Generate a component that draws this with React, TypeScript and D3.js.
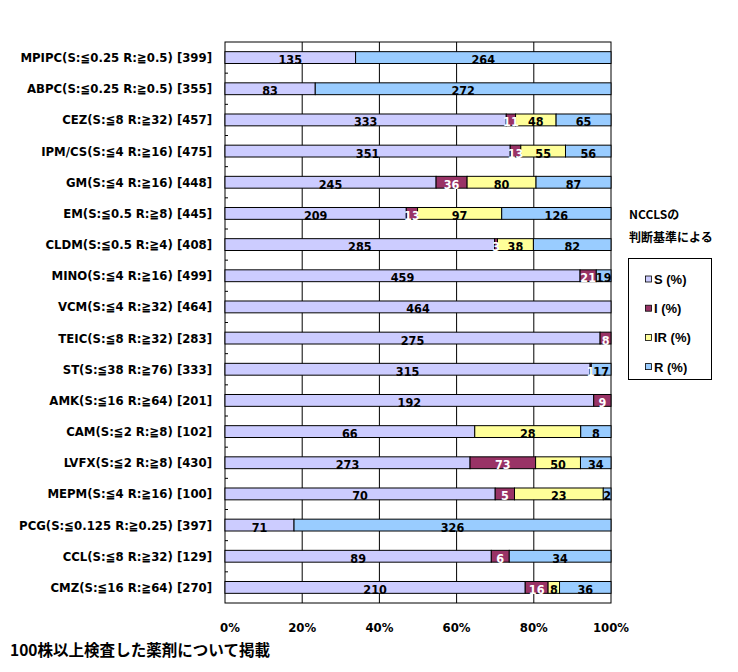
import * as d3 from "d3";

const categories = [
  "MPIPC(S:≦0.25 R:≧0.5) [399]",
  "ABPC(S:≦0.25 R:≧0.5) [355]",
  "CEZ(S:≦8 R:≧32) [457]",
  "IPM/CS(S:≦4 R:≧16) [475]",
  "GM(S:≦4 R:≧16) [448]",
  "EM(S:≦0.5 R:≧8) [445]",
  "CLDM(S:≦0.5 R:≧4) [408]",
  "MINO(S:≦4 R:≧16) [499]",
  "VCM(S:≦4 R:≧32) [464]",
  "TEIC(S:≦8 R:≧32) [283]",
  "ST(S:≦38 R:≧76) [333]",
  "AMK(S:≦16 R:≧64) [201]",
  "CAM(S:≦2 R:≧8) [102]",
  "LVFX(S:≦2 R:≧8) [430]",
  "MEPM(S:≦4 R:≧16) [100]",
  "PCG(S:≦0.125 R:≧0.25) [397]",
  "CCL(S:≦8 R:≧32) [129]",
  "CMZ(S:≦16 R:≧64) [270]",
];

const sValues = [135, 83, 333, 351, 245, 209, 285, 459, 464, 275, 315, 192, 66, 273, 70, 71, 89, 210];
const iValues = [0, 0, 11, 13, 36, 13, 3, 21, 0, 8, 1, 9, 0, 73, 5, 0, 6, 16];
const irValues = [0, 0, 48, 55, 80, 97, 38, 0, 0, 0, 0, 0, 28, 50, 23, 0, 0, 8];
const rValues = [264, 272, 65, 56, 87, 126, 82, 19, 0, 0, 17, 0, 8, 34, 2, 326, 34, 36];

const seriesNames = ["S (%)", "I (%)", "IR (%)", "R (%)"];
const seriesColors = ["#CCCCFF", "#993366", "#FFFF99", "#99CCFF"];
const labelColors = ["#000", "#fff", "#000", "#000"];
const xTicks = [0, 0.2, 0.4, 0.6, 0.8, 1];

const footnote = "100株以上検査した薬剤について掲載";
const legendTitle = ["NCCLSの", "判断基準による"];

const W = 738;
const H = 672;
const plot = { left: 225, right: 611, top: 42, bottom: 603 };
const narrow = "'DejaVu Sans Condensed', sans-serif";
const cjk = "'Noto Sans CJK JP', sans-serif";

export default function App() {
  const x = d3.scaleLinear().domain([0, 1]).range([plot.left, plot.right]);
  const y = d3
    .scaleBand()
    .domain(categories)
    .range([plot.top, plot.bottom])
    .paddingInner(0.62)
    .paddingOuter(0.31);
  const step = y.step();

  // stack each row into fractions of its total
  const rows = categories.map((c, i) => {
    const vals = [sValues[i], iValues[i], irValues[i], rValues[i]];
    const total = d3.sum(vals);
    let acc = 0;
    const segs = vals.map((v, k) => {
      const x0 = acc / total;
      acc += v;
      return { k, v, x0, x1: acc / total };
    });
    return { c, segs: segs.filter((s) => s.v > 0) };
  });

  const boundaries = d3.range(categories.length + 1).map((i) => plot.top + i * step);

  return (
    <svg
      width={W}
      height={H}
      style={{ position: "absolute", left: 0, top: 0, background: "#fff" }}
    >
      {/* gridlines + frame */}
      {xTicks.slice(1, -1).map((t) => (
        <line key={t} x1={x(t)} x2={x(t)} y1={plot.top} y2={plot.bottom} stroke="#000" />
      ))}
      <rect
        x={plot.left}
        y={plot.top}
        width={plot.right - plot.left}
        height={plot.bottom - plot.top}
        fill="none"
        stroke="#000"
      />
      {boundaries.slice(1, -1).map((b, i) => (
        <line key={i} x1={plot.left} x2={plot.left + 3} y1={b} y2={b} stroke="#000" />
      ))}

      {/* bars */}
      {rows.map((r) => (
        <g key={r.c}>
          {r.segs.map((s) => (
            <rect
              key={s.k}
              x={x(s.x0)}
              y={y(r.c)}
              width={x(s.x1) - x(s.x0)}
              height={y.bandwidth()}
              fill={seriesColors[s.k]}
              stroke="#000"
              strokeWidth={1}
            />
          ))}
          {r.segs.map((s) => (
            <text
              key={"t" + s.k}
              x={(x(s.x0) + x(s.x1)) / 2}
              y={(y(r.c) as number) + y.bandwidth() + 0.5}
              textAnchor="middle"
              fontFamily={narrow}
              fontWeight="bold"
              fontSize={12.5}
              fill={labelColors[s.k]}
            >
              {s.v}
            </text>
          ))}
          <text
            x={212}
            y={(y(r.c) as number) + y.bandwidth() / 2 + 4.5}
            textAnchor="end"
            fontFamily={narrow}
            fontWeight="bold"
            fontSize={13}
            fill="#000"
          >
            {r.c}
          </text>
        </g>
      ))}

      {/* x axis labels */}
      {xTicks.map((t) => (
        <text
          key={t}
          x={x(t) + (t === 0 ? 5 : 0)}
          y={632}
          textAnchor="middle"
          fontFamily={narrow}
          fontWeight="bold"
          fontSize={13}
        >
          {d3.format(".0%")(t)}
        </text>
      ))}

      {/* legend */}
      {legendTitle.map((t, i) => (
        <text key={t} x={629} y={219 + i * 23} fontFamily={cjk} fontWeight="bold" fontSize={12}>
          {t}
        </text>
      ))}
      <rect x={628.5} y={258.5} width={83} height={121} fill="#fff" stroke="#000" />
      {seriesNames.map((n, i) => (
        <g key={n}>
          <rect
            x={645.5}
            y={276 + i * 29.2}
            width={6}
            height={6}
            fill={seriesColors[i]}
            stroke="#000"
            strokeWidth={0.8}
          />
          <text
            x={654}
            y={284 + i * 29.2}
            fontFamily="'Liberation Sans', sans-serif"
            fontWeight="bold"
            fontSize={13}
          >
            {n}
          </text>
        </g>
      ))}

      <text
        x={10}
        y={656}
        fontFamily={cjk}
        fontWeight="bold"
        fontSize={15.5}
        textLength={260}
        lengthAdjust="spacingAndGlyphs"
      >
        {footnote}
      </text>
    </svg>
  );
}
